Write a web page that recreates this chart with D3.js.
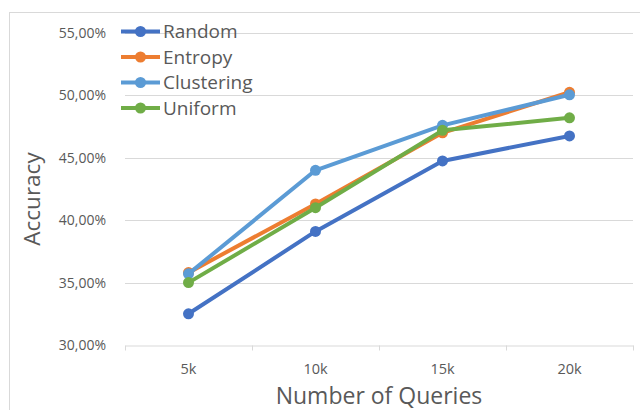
<!DOCTYPE html>
<html>
<head>
<meta charset="utf-8">
<script src="https://cdn.jsdelivr.net/npm/d3@7"></script>
<style>
  body { margin: 0; background: #fff; }
  text { font-family: "Open Sans", "Noto Sans", sans-serif; fill: #595959; }
</style>
</head>
<body>
<script>
// data
var categories = ["5k", "10k", "15k", "20k"];
var seriesNames = ["Random", "Entropy", "Clustering", "Uniform"];
var random = [32.5, 39.1, 44.75, 46.75];
var entropy = [35.8, 41.3, 47.0, 50.25];
var clustering = [35.7, 44.0, 47.6, 50.05];
var uniform = [35.0, 41.0, 47.2, 48.2];
var yTicks = [30, 35, 40, 45, 50, 55];
var colors = ["#4472C4", "#ED7D31", "#5B9BD5", "#70AD47"];

var width = 640, height = 410;
var margin = {top: 33, right: 7, bottom: 65, left: 125};

var svg = d3.select("body").append("svg")
    .attr("width", width)
    .attr("height", height);

// chart border (runs past the right and bottom edges)
svg.append("rect")
    .attr("x", 9.5).attr("y", 12.5)
    .attr("width", 700).attr("height", 500)
    .attr("fill", "none")
    .attr("stroke", "#d9d9d9");

var x = d3.scaleBand()
    .domain(categories)
    .range([margin.left, width - margin.right]);

var y = d3.scaleLinear()
    .domain([30, 55])
    .range([height - margin.bottom, margin.top]);

// gridlines
svg.append("g")
    .selectAll("line")
    .data(yTicks.slice(1))
    .enter().append("line")
    .attr("x1", margin.left).attr("x2", width - margin.right)
    .attr("y1", function(d) { return Math.round(y(d)) + 0.5; })
    .attr("y2", function(d) { return Math.round(y(d)) + 0.5; })
    .attr("stroke", "#d9d9d9")
    .attr("stroke-width", 1);

// y tick labels
svg.append("g")
    .selectAll("text")
    .data(yTicks)
    .enter().append("text")
    .attr("x", margin.left - 19)
    .attr("y", function(d) { return y(d); })
    .attr("dy", "0.35em")
    .attr("text-anchor", "end")
    .style("font-size", "14px")
    .text(function(d) { return d3.format(".2f")(d).replace(".", ",") + "%"; });

// x axis
var xAxis = svg.append("g")
    .attr("transform", "translate(0," + (Math.round(y(30)) + 0.5) + ")")
    .call(d3.axisBottom(x).tickSize(0).tickPadding(18));
xAxis.select(".domain").attr("stroke", "#d9d9d9");
xAxis.selectAll("text")
    .style("font-size", "14.5px")
    .style("font-family", "'Open Sans', sans-serif")
    .attr("fill", "#595959");

// category boundary ticks
var bounds = categories.map(function(c) { return x(c); }).concat([x.range()[1]]);
xAxis.selectAll(".bound")
    .data(bounds)
    .enter().append("line")
    .attr("class", "bound")
    .attr("x1", function(d) { return Math.round(d) + 0.5; })
    .attr("x2", function(d) { return Math.round(d) + 0.5; })
    .attr("y1", 0).attr("y2", 5)
    .attr("stroke", "#d9d9d9");

// axis titles
svg.append("text")
    .attr("x", x.range()[0] + (x.range()[1] - x.range()[0]) / 2)
    .attr("y", 404)
    .attr("text-anchor", "middle")
    .style("font-size", "23px")
    .text("Number of Queries");

svg.append("text")
    .attr("transform", "translate(40," + ((y(30) + y(55)) / 2 + 10) + ") rotate(-90)")
    .attr("text-anchor", "middle")
    .style("font-size", "22.5px")
    .text("Accuracy");

// series lines
var allSeries = [random, entropy, clustering, uniform];
var line = d3.line()
    .x(function(d, i) { return x(categories[i]) + x.bandwidth() / 2; })
    .y(function(d) { return y(d); });

allSeries.forEach(function(vals, k) {
    var g = svg.append("g");
    g.append("path")
        .datum(vals)
        .attr("d", line)
        .attr("fill", "none")
        .attr("stroke", colors[k])
        .attr("stroke-width", 4)
        .attr("stroke-linejoin", "round")
        .attr("stroke-linecap", "round");
    g.selectAll("circle")
        .data(vals)
        .enter().append("circle")
        .attr("cx", function(d, i) { return x(categories[i]) + x.bandwidth() / 2; })
        .attr("cy", function(d) { return y(d); })
        .attr("r", 5.5)
        .attr("fill", colors[k]);
});

// legend
var legend = svg.append("g");
seriesNames.forEach(function(name, k) {
    var ly = 31.5 + k * 25.5;
    legend.append("line")
        .attr("x1", 121).attr("x2", 160)
        .attr("y1", ly).attr("y2", ly)
        .attr("stroke", colors[k])
        .attr("stroke-width", 4);
    legend.append("circle")
        .attr("cx", 140.5).attr("cy", ly).attr("r", 5.5)
        .attr("fill", colors[k]);
    legend.append("text")
        .attr("x", 163).attr("y", ly)
        .attr("dy", "0.35em")
        .style("font-size", "19px")
        .text(name);
});
</script>
</body>
</html>
